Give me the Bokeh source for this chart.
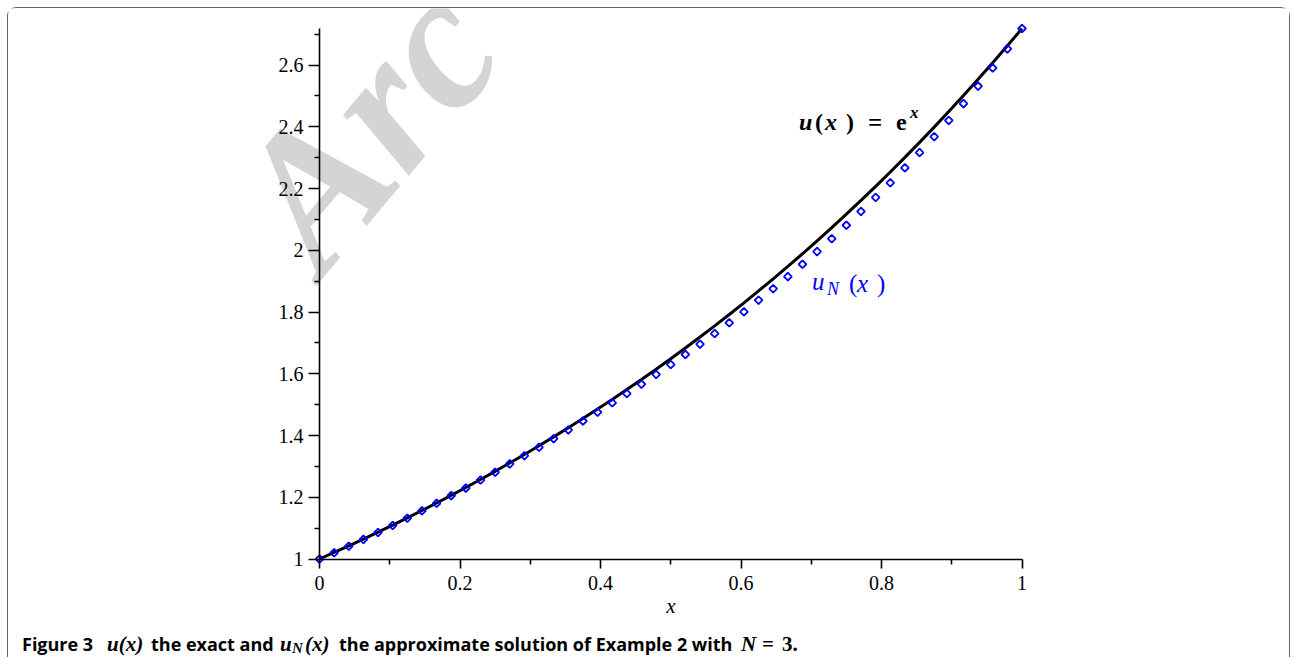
import math
from bokeh.plotting import figure
from bokeh.models import Range1d, FixedTicker, Label, LinearAxis
from bokeh.embed import file_html
from bokeh.resources import INLINE

# ---------------- data ----------------
x_grid = [0.0, 0.0208, 0.0417, 0.0625, 0.0833, 0.1042, 0.125, 0.1458, 0.1667,
          0.1875, 0.2083, 0.2292, 0.25, 0.2708, 0.2917, 0.3125, 0.3333, 0.3542,
          0.375, 0.3958, 0.4167, 0.4375, 0.4583, 0.4792, 0.5, 0.5208, 0.5417,
          0.5625, 0.5833, 0.6042, 0.625, 0.6458, 0.6667, 0.6875, 0.7083, 0.7292,
          0.75, 0.7708, 0.7917, 0.8125, 0.8333, 0.8542, 0.875, 0.8958, 0.9167,
          0.9375, 0.9583, 0.9792, 1.0]

u_exact = [1.0000, 1.0211, 1.0425, 1.0645, 1.0869, 1.1098, 1.1331, 1.1570, 1.1814,
           1.2062, 1.2316, 1.2576, 1.2840, 1.3111, 1.3387, 1.3668, 1.3956, 1.4250,
           1.4550, 1.4856, 1.5169, 1.5488, 1.5814, 1.6147, 1.6487, 1.6834, 1.7189,
           1.7551, 1.7920, 1.8297, 1.8682, 1.9076, 1.9477, 1.9887, 2.0306, 2.0734,
           2.1170, 2.1616, 2.2071, 2.2535, 2.3010, 2.3494, 2.3989, 2.4494, 2.5010,
           2.5536, 2.6074, 2.6623, 2.7183]

u_approx = [1.0000, 1.0200, 1.0416, 1.0635, 1.0859, 1.1088, 1.1322, 1.1560, 1.1804,
            1.2052, 1.2296, 1.2556, 1.2810, 1.3081, 1.3347, 1.3618, 1.3896, 1.4180,
            1.4470, 1.4756, 1.5059, 1.5358, 1.5664, 1.5977, 1.6297, 1.6624, 1.6959,
            1.7301, 1.7650, 1.8007, 1.8382, 1.8756, 1.9147, 1.9547, 1.9956, 2.0374,
            2.0810, 2.1256, 2.1711, 2.2185, 2.2670, 2.3164, 2.3679, 2.4204, 2.4750,
            2.5316, 2.5904, 2.6523, 2.7183]

x_ticks = [0, 0.2, 0.4, 0.6, 0.8, 1]
x_tick_labels = ["0", "0.2", "0.4", "0.6", "0.8", "1"]
x_minor_ticks = [0.1, 0.3, 0.5, 0.7, 0.9]
y_ticks = [1, 1.2, 1.4, 1.6, 1.8, 2, 2.2, 2.4, 2.6]
y_tick_labels = ["1", "1.2", "1.4", "1.6", "1.8", "2", "2.2", "2.4", "2.6"]
y_minor_ticks = [1.1, 1.3, 1.5, 1.7, 1.9, 2.1, 2.3, 2.5, 2.7]

# ---------------- layout (page pixels) ----------------
OX, OY = 8.5, 8.5            # top-left of the drawing area on the page
W, H = 1283, 650
PX0, PX1 = 319.5, 1022.0     # page x of x = 0 and x = 1
x_lo, x_hi = min(x_grid), max(x_grid)
y_lo, y_hi = min(u_exact), max(u_exact)
PY_LO, PY_HI = 559.0, 28.5   # page y of the y-range ends

sx = (PX1 - PX0) / (x_hi - x_lo)
sy = (PY_LO - PY_HI) / (y_hi - y_lo)


def dx(px):
    return x_lo + (px - PX0) / sx


def dy(py):
    return y_lo + (PY_LO - py) / sy


x_range = Range1d(dx(OX), dx(OX + W))
y_range = Range1d(dy(OY + H), dy(OY))

p = figure(width=W, height=H, x_range=x_range, y_range=y_range,
           output_backend="svg", toolbar_location=None,
           x_axis_location=None, y_axis_location=None,
           min_border_left=0, min_border_right=0,
           min_border_top=0, min_border_bottom=0)
p.outline_line_color = None
p.grid.visible = False
p.background_fill_color = "white"
p.border_fill_color = "white"
p.styles = {"margin-left": "7px", "margin-top": "7px",
            "border-top": "1.5px solid #666", "border-left": "1.5px solid #666",
            "border-right": "1.5px solid #666", "border-top-right-radius": "9px",
            "border-top-left-radius": "9px"}

SERIF = "Liberation Serif"
SANS = "Open Sans"

# watermark
p.add_layout(Label(x=dx(272), y=dy(236), text="Arc", angle=math.radians(50),
                   text_font=SERIF, text_font_style="bold italic",
                   text_font_size="195px", text_color="#d4d4d4",
                   text_baseline="alphabetic", level="underlay"))

# curves
p.line(x_grid, u_exact, line_color="black", line_width=3)
p.scatter(x_grid, u_approx, marker="square", size=5.5, angle=math.pi / 4,
          fill_color=None, line_color="#0000ff", line_width=1.8)

# axes, fixed at x = 0 and y = 1
xaxis = LinearAxis(fixed_location=y_lo, bounds=(x_lo, x_hi))
yaxis = LinearAxis(fixed_location=x_lo, bounds=(y_lo, y_hi))
p.add_layout(xaxis, "below")
p.add_layout(yaxis, "left")
for ax in (xaxis, yaxis):
    ax.axis_line_width = 1.6
    ax.axis_line_color = "black"
    ax.major_tick_line_width = 1.6
    ax.minor_tick_line_width = 1.6
    ax.major_tick_in = 0
    ax.minor_tick_in = 0
    ax.minor_tick_out = 5
    ax.major_label_text_font = SERIF
    ax.major_label_text_font_size = "20px"
    ax.major_label_text_color = "black"

xaxis.ticker = FixedTicker(ticks=x_ticks, minor_ticks=x_minor_ticks)
yaxis.ticker = FixedTicker(ticks=y_ticks, minor_ticks=y_minor_ticks)
xaxis.major_label_overrides = dict(zip(x_ticks, x_tick_labels))
yaxis.major_label_overrides = dict(zip(y_ticks, y_tick_labels))
xaxis.major_tick_out = 9
yaxis.major_tick_out = 11
xaxis.major_label_standoff = 8
yaxis.major_label_standoff = 5
xaxis.axis_label = "x"
xaxis.axis_label_text_font = SERIF
xaxis.axis_label_text_font_style = "italic"
xaxis.axis_label_text_font_size = "21px"
xaxis.axis_label_text_color = "black"
xaxis.axis_label_standoff = 0


def lab(px, py, text, font=SERIF, style="normal", size="24px", color="black"):
    p.add_layout(Label(x=dx(px), y=dy(py), text=text, text_font=font,
                       text_font_style=style, text_font_size=size,
                       text_color=color, text_baseline="alphabetic"))


# u(x) = e^x annotation
lab(799, 122, "u", style="bold italic", size="24px")
lab(815, 122, "(", style="bold", size="24px")
lab(825, 122, "x", style="bold italic", size="24px")
lab(846, 122, ")", style="bold", size="24px")
lab(868, 122, "=", style="bold", size="25px")
lab(896, 122, "e", style="bold", size="24px")
lab(910, 112, "x", style="bold italic", size="17px")

# u_N(x) annotation
BLUE = "#0000ff"
lab(812, 281, "u", style="italic", size="25px", color=BLUE)
lab(827, 289, "N", style="italic", size="18px", color=BLUE)
lab(849, 283, "(", size="25px", color=BLUE)
lab(857, 283, "x", style="italic", size="25px", color=BLUE)
lab(877, 283, ")", size="25px", color=BLUE)

# caption
CY = 644
CS = "18px"
MS = "21px"
lab(22, CY, "Figure 3", font=SANS, style="bold", size=CS)
lab(107, CY, "u(x)", style="bold italic", size=MS)
lab(151, CY, "the exact and", font=SANS, style="bold", size=CS)
lab(280, CY, "u", style="bold italic", size=MS)
lab(292, CY + 4, "N", style="bold italic", size="15px")
lab(305, CY, "(x)", style="bold italic", size=MS)
lab(339, CY, "the approximate solution of Example 2 with", font=SANS, style="bold", size=CS)
lab(741, CY, "N", style="bold italic", size=MS)
lab(762, CY, "=", style="bold", size=MS)
lab(782, CY, "3.", style="bold", size=MS)

open("out.html", "w").write(file_html(p, INLINE))
